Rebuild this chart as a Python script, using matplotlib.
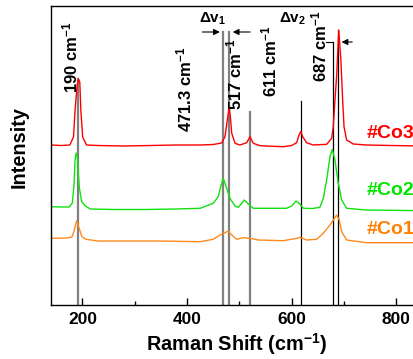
import matplotlib
matplotlib.use("Agg")
import matplotlib.pyplot as plt

plt.rcParams['font.family'] = ['Liberation Sans', 'DejaVu Sans']
plt.rcParams['font.weight'] = 'bold'
plt.rcParams['mathtext.fontset'] = 'custom'
plt.rcParams['mathtext.rm'] = 'Liberation Sans:bold'
plt.rcParams['mathtext.bf'] = 'Liberation Sans:bold'
plt.rcParams['mathtext.it'] = 'Liberation Sans:bold'
plt.rcParams['mathtext.default'] = 'rm'

# ---- data (Raman shift in cm^-1, intensity in arbitrary units) ----
co3_x = [140, 160, 176, 183, 186, 190, 192.5, 195, 197, 200.5, 208, 230, 280, 330, 380, 425, 450,
         466, 472.5, 477, 480.5, 483, 485.3, 491.6, 501, 514, 520.3, 526.6, 539.4, 560, 584, 600,
         609.5, 614, 617.5, 621, 628.5, 641, 667, 676.4, 679.5, 682.7, 686, 690, 694, 697.4, 700,
         705, 717.7, 743, 790, 850]
co3_y = [160, 159.5, 160, 168, 195, 220, 226, 223, 195, 168, 160, 159.5, 159, 159.5, 160, 160, 160.5,
         162, 168.3, 185, 198, 187, 172, 161.7, 160, 162.3, 168.3, 161.7, 159.3, 158.8, 158.3, 159.5,
         162.3, 170, 173.5, 168.3, 162.3, 160, 160.7, 166.7, 178.3, 205, 230, 275, 245, 205, 178.3,
         165, 161, 160, 159.5, 159]

co2_x = [140, 160, 175, 180.8, 184, 186, 188, 190.3, 194, 198.6, 205, 215, 260, 320, 380, 425, 450,
         459.7, 464.3, 469.3, 475.7, 482, 491.6, 498, 504.4, 509.4, 517, 526.6, 552, 590, 600, 608.2,
         614.6, 622.3, 640, 654, 660.4, 666.8, 673.2, 677.6, 682.7, 689, 695.5, 705, 743, 850]
co2_y = [98.3, 98, 98, 102, 120, 145, 152, 148, 118, 103.3, 99.3, 96, 95.5, 95.5, 96, 96.7, 101.7,
         108.3, 118.3, 126.7, 116.7, 106.7, 99, 97.7, 101.7, 105, 101, 96.7, 96.7, 96.7, 99, 104,
         101.7, 96.7, 96.5, 97.7, 106.7, 125, 148.3, 155.7, 145, 121.7, 105, 96.7, 95, 94.3]

co1_x = [140, 170, 180, 184, 189, 193, 199, 207, 230, 300, 348, 400, 425, 450, 463, 472.5, 478.9,
         485.3, 494.8, 507.5, 520.3, 536, 584, 609.5, 615.9, 628.6, 647.7, 660.4, 673.2, 679.5, 686,
         691, 695.5, 705, 743, 850]
co1_y = [66.7, 67, 68, 74, 84.3, 78, 68.3, 65.7, 64, 64, 64, 63.5, 63.3, 65.7, 70, 72.3, 74,
         70, 65.7, 67.3, 66.7, 65, 64.3, 66.7, 67.7, 65, 65.7, 71.7, 80, 85, 90,
         85, 73.3, 65, 62.3, 62.3]

series_names = ['#Co3', '#Co2', '#Co1']
series_colors = ['#ff0000', '#11e011', '#ff8a1c']
label_colors = ['#ff0000', '#00e600', '#ff8000']

# reference lines: position, top intensity
ref_pos = [191, 469, 481, 520, 617, 679, 688]
ref_top = [226, 273, 273, 193, 204, 263, 275]
ref_color = ['#808080', '#808080', '#808080', '#808080', 'black', 'black', 'black']
ref_lw = [1.6, 1.6, 1.6, 1.6, 0.9, 0.9, 0.9]

peak_labels = ['190 cm$^{-1}$', '471.3 cm$^{-1}$', '517 cm$^{-1}$', '611 cm$^{-1}$', '687 cm$^{-1}$']
peak_label_x = [178, 396, 491, 557, 654]
peak_label_y = [212, 173, 195, 208, 223]

fig = plt.figure(figsize=(4.14, 3.59), dpi=100)
ax = fig.add_axes([51/414, 54/359, 371.5/414, 299/359])

for xs, ys, c in zip([co3_x, co2_x, co1_x], [co3_y, co2_y, co1_y], series_colors):
    ax.plot(xs, ys, color=c, lw=1.0)

for p, t, c, lw in zip(ref_pos, ref_top, ref_color, ref_lw):
    ax.plot([p, p], [0, t], color=c, lw=lw, zorder=1)

for txt, x, y in zip(peak_labels, peak_label_x, peak_label_y):
    ax.text(x, y, txt, rotation=90, ha='center', va='bottom', fontsize=12, fontweight='bold')

# delta annotations
ax.text(422, 286, 'Δv$_1$', ha='left', va='center', fontsize=11, fontweight='bold')
ax.text(576, 286, 'Δv$_2$', ha='left', va='center', fontsize=11, fontweight='bold')
arr = dict(arrowstyle='-|>', color='black', lw=0.8, mutation_scale=9)
ax.annotate('', xy=(468, 273), xytext=(424, 273), arrowprops=arr)
ax.annotate('', xy=(482, 273), xytext=(526, 273), arrowprops=arr)
ax.annotate('', xy=(690, 263), xytext=(721, 263), arrowprops=arr)
ax.plot([665, 679], [263, 263], color='black', lw=0.8)

# series labels
for name, c, y in zip(series_names, label_colors, [171, 114.5, 75]):
    ax.text(743, y, name, color=c, ha='left', va='center', fontsize=14, fontweight='bold')

ax.set_xlim(140, 850)
ax.set_ylim(0, 299)
ax.set_xticks([200, 400, 600, 800])
ax.set_xticks([300, 500, 700], minor=True)
ax.set_yticks([])
ax.tick_params(axis='x', which='major', direction='in', length=5, width=1, labelsize=12.5, pad=5)
ax.tick_params(axis='x', which='minor', direction='in', length=3, width=1)
for lbl in ax.get_xticklabels():
    lbl.set_fontweight('bold')
for s in ax.spines.values():
    s.set_linewidth(1.0)
ax.set_xlabel('Raman Shift (cm$^{-1}$)', fontsize=14.3, fontweight='bold', labelpad=3)
ax.set_ylabel('Intensity', fontsize=14.3, fontweight='bold')
ax.yaxis.set_label_coords(-0.061, 0.528)

fig.savefig('out.png', dpi=100)
